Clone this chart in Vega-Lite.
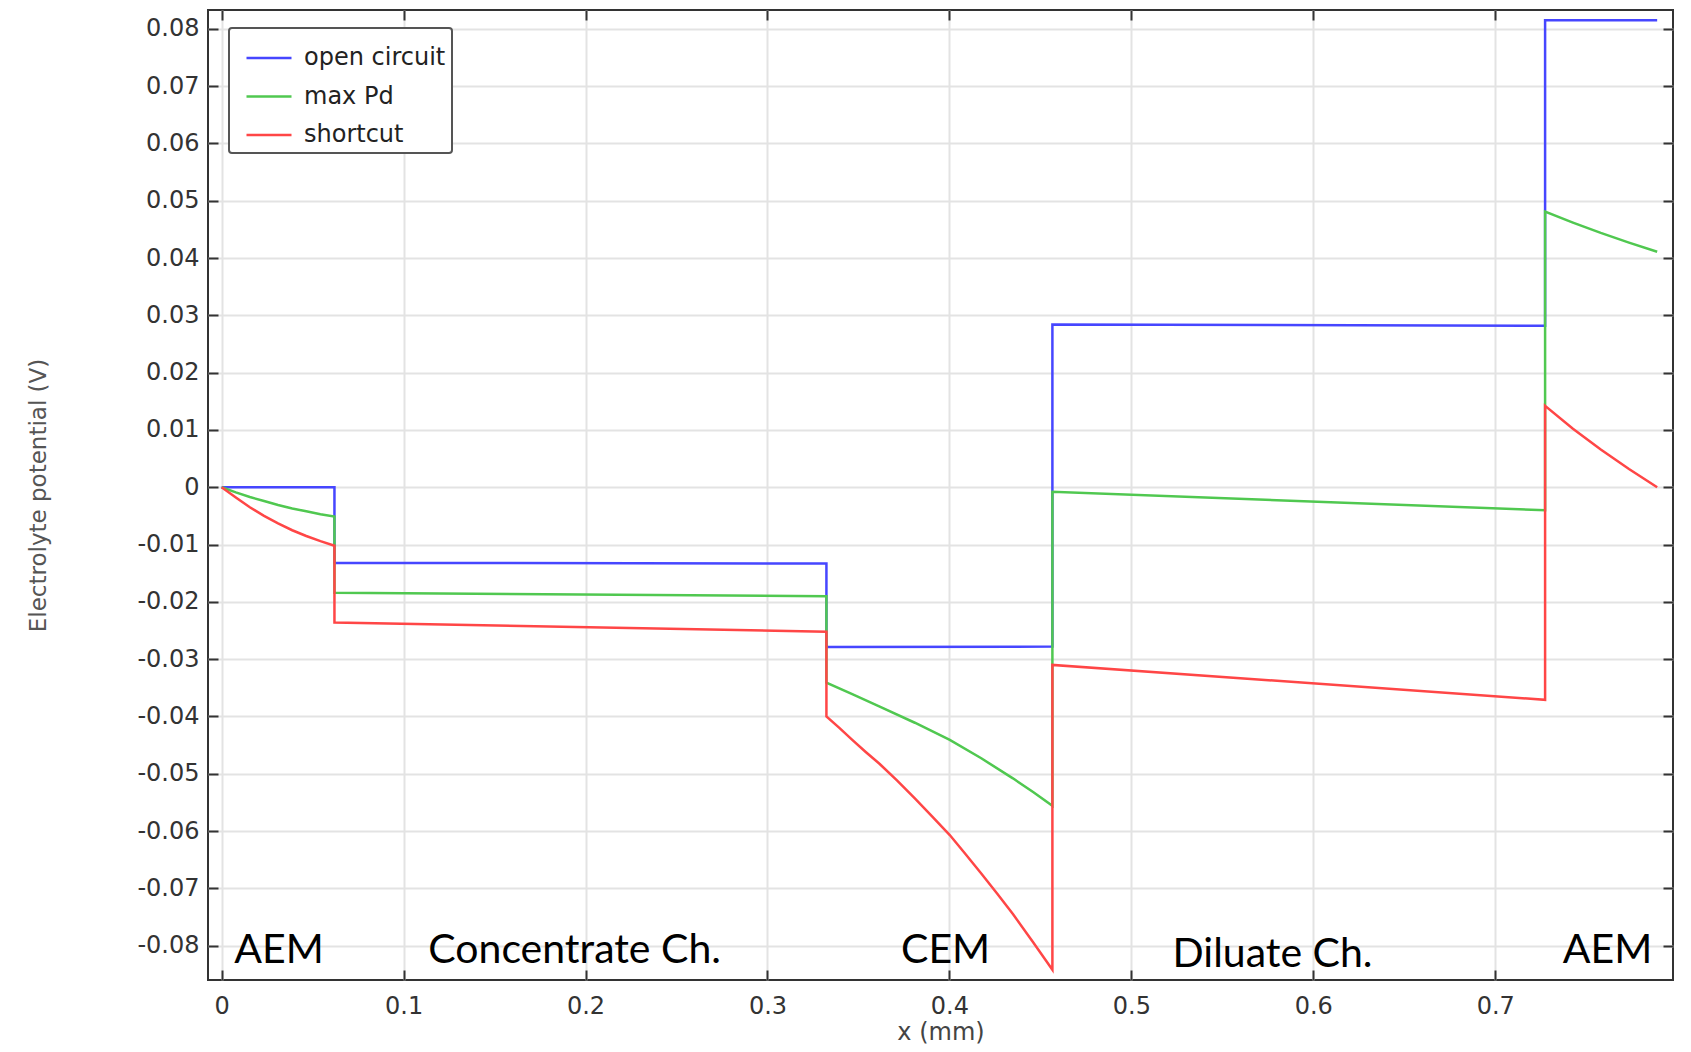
{
  "$schema": "https://vega.github.io/schema/vega-lite/v6.json",
  "width": 1465,
  "height": 970,
  "autosize": "none",
  "padding": {"left": 208, "top": 10, "right": 18, "bottom": 72},
  "background": "white",
  "config": {
    "view": {"stroke": "#333333", "strokeWidth": 2},
    "font": "DejaVu Sans",
    "legend": {"strokeWidth": 2}
  },
  "datasets": {
    "curves": [
      {"series": "open circuit", "i": 0, "x": 0, "y": 0},
      {"series": "open circuit", "i": 1, "x": 0.062, "y": 0},
      {"series": "open circuit", "i": 2, "x": 0.062, "y": -0.0132},
      {"series": "open circuit", "i": 3, "x": 0.3324, "y": -0.0133},
      {"series": "open circuit", "i": 4, "x": 0.3324, "y": -0.0279},
      {"series": "open circuit", "i": 5, "x": 0.4566, "y": -0.0278},
      {"series": "open circuit", "i": 6, "x": 0.4566, "y": 0.0284},
      {"series": "open circuit", "i": 7, "x": 0.7274, "y": 0.0282},
      {"series": "open circuit", "i": 8, "x": 0.7274, "y": 0.0815},
      {"series": "open circuit", "i": 9, "x": 0.789, "y": 0.0815},

      {"series": "max Pd", "i": 0, "x": 0, "y": 0},
      {"series": "max Pd", "i": 1, "x": 0.0078, "y": -0.0009},
      {"series": "max Pd", "i": 2, "x": 0.0155, "y": -0.0017},
      {"series": "max Pd", "i": 3, "x": 0.0233, "y": -0.0024},
      {"series": "max Pd", "i": 4, "x": 0.031, "y": -0.0031},
      {"series": "max Pd", "i": 5, "x": 0.0388, "y": -0.0037},
      {"series": "max Pd", "i": 6, "x": 0.0465, "y": -0.0042},
      {"series": "max Pd", "i": 7, "x": 0.0543, "y": -0.0047},
      {"series": "max Pd", "i": 8, "x": 0.062, "y": -0.0051},
      {"series": "max Pd", "i": 9, "x": 0.062, "y": -0.0184},
      {"series": "max Pd", "i": 10, "x": 0.3324, "y": -0.019},
      {"series": "max Pd", "i": 11, "x": 0.3324, "y": -0.0341},
      {"series": "max Pd", "i": 12, "x": 0.3466, "y": -0.0361},
      {"series": "max Pd", "i": 13, "x": 0.3617, "y": -0.0383},
      {"series": "max Pd", "i": 14, "x": 0.381, "y": -0.0411},
      {"series": "max Pd", "i": 15, "x": 0.4002, "y": -0.0441},
      {"series": "max Pd", "i": 16, "x": 0.4175, "y": -0.0473},
      {"series": "max Pd", "i": 17, "x": 0.4349, "y": -0.0508},
      {"series": "max Pd", "i": 18, "x": 0.446, "y": -0.0532},
      {"series": "max Pd", "i": 19, "x": 0.4566, "y": -0.0556},
      {"series": "max Pd", "i": 20, "x": 0.4566, "y": -0.0008},
      {"series": "max Pd", "i": 21, "x": 0.7274, "y": -0.004},
      {"series": "max Pd", "i": 22, "x": 0.7274, "y": 0.0481},
      {"series": "max Pd", "i": 23, "x": 0.7427, "y": 0.0462},
      {"series": "max Pd", "i": 24, "x": 0.758, "y": 0.0444},
      {"series": "max Pd", "i": 25, "x": 0.7735, "y": 0.0427},
      {"series": "max Pd", "i": 26, "x": 0.789, "y": 0.0411},

      {"series": "shortcut", "i": 0, "x": 0, "y": 0},
      {"series": "shortcut", "i": 1, "x": 0.0078, "y": -0.0018},
      {"series": "shortcut", "i": 2, "x": 0.0155, "y": -0.0035},
      {"series": "shortcut", "i": 3, "x": 0.0233, "y": -0.005},
      {"series": "shortcut", "i": 4, "x": 0.031, "y": -0.0063},
      {"series": "shortcut", "i": 5, "x": 0.0388, "y": -0.0075},
      {"series": "shortcut", "i": 6, "x": 0.0465, "y": -0.0085},
      {"series": "shortcut", "i": 7, "x": 0.0543, "y": -0.0094},
      {"series": "shortcut", "i": 8, "x": 0.062, "y": -0.0102},
      {"series": "shortcut", "i": 9, "x": 0.062, "y": -0.0236},
      {"series": "shortcut", "i": 10, "x": 0.3324, "y": -0.0252},
      {"series": "shortcut", "i": 11, "x": 0.3324, "y": -0.04},
      {"series": "shortcut", "i": 12, "x": 0.3395, "y": -0.042},
      {"series": "shortcut", "i": 13, "x": 0.3466, "y": -0.0441},
      {"series": "shortcut", "i": 14, "x": 0.354, "y": -0.0462},
      {"series": "shortcut", "i": 15, "x": 0.3617, "y": -0.0483},
      {"series": "shortcut", "i": 16, "x": 0.3713, "y": -0.0512},
      {"series": "shortcut", "i": 17, "x": 0.381, "y": -0.0543},
      {"series": "shortcut", "i": 18, "x": 0.3906, "y": -0.0575},
      {"series": "shortcut", "i": 19, "x": 0.4002, "y": -0.0607},
      {"series": "shortcut", "i": 20, "x": 0.4088, "y": -0.064},
      {"series": "shortcut", "i": 21, "x": 0.4175, "y": -0.0674},
      {"series": "shortcut", "i": 22, "x": 0.4262, "y": -0.0709},
      {"series": "shortcut", "i": 23, "x": 0.4349, "y": -0.0745},
      {"series": "shortcut", "i": 24, "x": 0.446, "y": -0.0794},
      {"series": "shortcut", "i": 25, "x": 0.4566, "y": -0.0842},
      {"series": "shortcut", "i": 26, "x": 0.4566, "y": -0.031},
      {"series": "shortcut", "i": 27, "x": 0.7274, "y": -0.0371},
      {"series": "shortcut", "i": 28, "x": 0.7274, "y": 0.0142},
      {"series": "shortcut", "i": 29, "x": 0.7427, "y": 0.0102},
      {"series": "shortcut", "i": 30, "x": 0.758, "y": 0.0066},
      {"series": "shortcut", "i": 31, "x": 0.7735, "y": 0.0032},
      {"series": "shortcut", "i": 32, "x": 0.789, "y": 0.0}
    ],
    "labels": [
      {"x": 0.0315, "y": -0.083, "label": "AEM"},
      {"x": 0.194, "y": -0.083, "label": "Concentrate Ch."},
      {"x": 0.3979, "y": -0.083, "label": "CEM"},
      {"x": 0.5776, "y": -0.0837, "label": "Diluate Ch."},
      {"x": 0.7617, "y": -0.083, "label": "AEM"}
    ]
  },
  "layer": [
    {
      "data": {"name": "curves"},
      "mark": {"type": "line", "strokeWidth": 2.5, "clip": true},
      "encoding": {
        "x": {
          "field": "x", "type": "quantitative",
          "scale": {"domain": [-0.0075, 0.7977], "nice": false, "zero": false},
          "axis": {
            "orient": "bottom",
            "values": [0, 0.1, 0.2, 0.3, 0.4, 0.5, 0.6, 0.7],
            "format": ".1~f",
            "labelExpr": "replace(datum.label, '−', '-')",
            "labelFlush": false,
            "grid": true, "gridColor": "#e3e3e3", "gridWidth": 2,
            "domain": false,
            "tickSize": -10, "tickColor": "#333333", "tickWidth": 2,
            "labelPadding": 24, "labelFontSize": 24, "labelColor": "#333333", "labelFont": "DejaVu Sans",
            "title": "x (mm)", "titleFontSize": 24, "titleFont": "DejaVu Sans", "titleFontWeight": "normal",
            "titleColor": "#444444", "titleBaseline": "middle", "titleY": 52
          }
        },
        "y": {
          "field": "y", "type": "quantitative",
          "scale": {"domain": [-0.086, 0.0833], "nice": false, "zero": false},
          "axis": {
            "orient": "left",
            "values": [-0.08, -0.07, -0.06, -0.05, -0.04, -0.03, -0.02, -0.01, 0, 0.01, 0.02, 0.03, 0.04, 0.05, 0.06, 0.07, 0.08],
            "format": ".2~f",
            "labelExpr": "replace(datum.label, '−', '-')",
            "labelFlush": false,
            "grid": true, "gridColor": "#e3e3e3", "gridWidth": 2,
            "domain": false,
            "tickSize": -10, "tickColor": "#333333", "tickWidth": 2,
            "labelPadding": 19, "labelFontSize": 24, "labelColor": "#333333", "labelFont": "DejaVu Sans",
            "title": "Electrolyte potential (V)", "titleFontSize": 23, "titleFont": "DejaVu Sans", "titleFontWeight": "normal",
            "titleColor": "#555555", "titleBaseline": "middle", "titleX": -170, "titleY": 485, "titleAngle": -90
          }
        },
        "color": {
          "field": "series", "type": "nominal",
          "scale": {"domain": ["open circuit", "max Pd", "shortcut"], "range": ["#4646ff", "#50c850", "#ff4646"]},
          "legend": {
            "orient": "none", "legendX": 21, "legendY": 18, "title": null,
            "symbolType": "stroke", "symbolSize": 2025, "symbolStrokeWidth": 2.5,
            "labelFontSize": 24, "labelFont": "DejaVu Sans", "labelColor": "#222222",
            "labelOffset": 11, "padding": 6, "symbolOffset": 10, "rowPadding": 2.5,
            "strokeColor": "#555555", "fillColor": "white", "cornerRadius": 3, "labelLimit": 400
          }
        },
        "order": {"field": "i", "type": "quantitative"}
      }
    },
    {
      "data": {"name": "labels"},
      "mark": {"type": "text", "font": "Lato", "fontSize": 41, "color": "black", "baseline": "alphabetic", "align": "center"},
      "encoding": {
        "x": {
          "field": "x", "type": "quantitative",
          "axis": {
            "orient": "top", "values": [0, 0.1, 0.2, 0.3, 0.4, 0.5, 0.6, 0.7],
            "labels": false, "grid": false, "domain": false,
            "tickSize": -10, "tickColor": "#333333", "tickWidth": 2, "title": null
          }
        },
        "y": {
          "field": "y", "type": "quantitative",
          "axis": {
            "orient": "right",
            "values": [-0.08, -0.07, -0.06, -0.05, -0.04, -0.03, -0.02, -0.01, 0, 0.01, 0.02, 0.03, 0.04, 0.05, 0.06, 0.07, 0.08],
            "labels": false, "grid": false, "domain": false,
            "tickSize": -10, "tickColor": "#333333", "tickWidth": 2, "title": null
          }
        },
        "text": {"field": "label"}
      }
    }
  ],
  "resolve": {"axis": {"x": "independent", "y": "independent"}}
}
